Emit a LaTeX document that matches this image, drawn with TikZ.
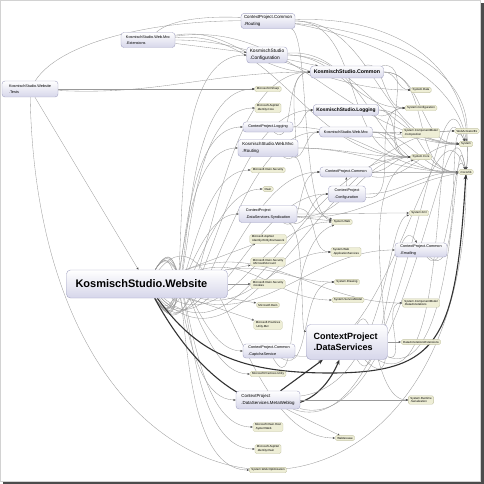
\documentclass[tikz,border=0pt]{standalone}
\usepackage{fontspec}
\setmainfont{Liberation Sans}
\usepackage{tikz}
\usetikzlibrary{arrows.meta}
\usetikzlibrary{calc}
\usetikzlibrary{positioning}
\usetikzlibrary{backgrounds}

\definecolor{asmfill}{HTML}{D6D6EA}
\definecolor{asmline}{HTML}{A4A4C4}
\definecolor{extfill}{HTML}{EEEED6}
\definecolor{extline}{HTML}{C4C4A4}
\definecolor{edgegray}{HTML}{999999}

\tikzset{
	asm/.style={draw=asmline, rounded corners=3pt, top color=white, bottom color=asmfill, align=left, inner xsep=3pt, inner ysep=2pt, line width=0.4pt},
	asmS/.style={asm, font=\fontsize{3.8}{6.2}\selectfont},
	asmM/.style={asm, font=\fontsize{4.4}{7}\selectfont},
	asmL/.style={asm, font=\fontsize{4.9}{7}\selectfont\bfseries},
	ext/.style={draw=extline, fill=extfill, rounded corners=1.5pt, align=left, font=\fontsize{2.9}{3.7}\selectfont, inner xsep=2pt, inner ysep=1.3pt, line width=0.3pt},
	dep/.style={-{Stealth[length=2.6pt,width=2pt,color=black!70]}, draw=edgegray, line width=0.33pt},
	heavy/.style={-{Stealth[length=5pt,width=4pt]}, draw=black!80, line width=1.1pt}
}

\begin{document}
\begin{tikzpicture}[x=1pt,y=-1pt]
	\useasboundingbox (0,0) rectangle (484,484);

	\node[asmS, minimum width=56pt, minimum height=16pt] (tests) at (30,89) {KosmischStudio.Website\\.Tests};
	\node[asmS, minimum width=54pt, minimum height=15pt] (mvcext) at (148,40) {KosmischStudio.Web.Mvc\\.Extensions};
	\node[asmM, minimum width=52pt, minimum height=15pt] (cprouting) at (268,21) {ContextProject.Common\\.Routing};
	\node[asmM, font=\fontsize{4.8}{7.5}\selectfont, minimum width=40pt, minimum height=16pt] (kconfig) at (267,55) {KosmischStudio\\.Configuration};
	\node[asmL, font=\fontsize{5.3}{7}\selectfont\bfseries, minimum width=73pt, minimum height=12pt] (kcommon) at (347,72) {KosmischStudio.Common};
	\node[asmL, minimum width=58pt, minimum height=11pt] (klogging) at (346,110) {KosmischStudio.Logging};
	\node[asmS, minimum width=53pt, minimum height=10pt] (kwebmvc) at (346,132) {KosmischStudio.Web.Mvc};
	\node[asmS, minimum width=50pt, minimum height=10pt] (cplogging) at (268,127) {ContextProject.Logging};
	\node[asmM, minimum width=60pt, minimum height=17pt] (kroute) at (268,148) {KosmischStudio.Web.Mvc\\.Routing};
	\node[asmS, minimum width=52pt, minimum height=10pt] (cpcommon) at (346,172) {ContextProject.Common};
	\node[asmS, minimum width=37pt, minimum height=16pt] (cpconfig) at (347,194) {ContextProject\\.Configuration};
	\node[asmS, minimum width=58pt, minimum height=17pt] (synd) at (268,214) {ContextProject\\.DataServices.Syndication};
	\node[asm, font=\fontsize{11}{13}\selectfont\bfseries, rounded corners=4pt, inner xsep=9pt, text width=143pt, minimum height=28pt] (W) at (147,284) {KosmischStudio.Website};
	\node[asmS, minimum width=52pt, minimum height=14pt] (emailing) at (421,250) {ContextProject.Common\\.Emailing};
	\node[asmS, minimum width=52pt, minimum height=14pt] (captcha) at (269,351) {ContextProject.Common\\.CaptchaService};
	\node[asm, font=\fontsize{9}{11.5}\selectfont\bfseries, rounded corners=4pt, inner xsep=7pt, text width=67pt, minimum height=35pt] (DS) at (347,342) {ContextProject\\.DataServices};
	\node[asmM, minimum width=64pt, minimum height=18pt] (metaweblog) at (268,400) {ContextProject\\.DataServices.MetaWeblog};

	\node[ext] (csharp) at (268,89) {Microsoft.CSharp};
	\node[ext] (idcore) at (268,108) {Microsoft.AspNet\\.Identity.Core};
	\node[ext] (owinsec) at (268,170) {Microsoft.Owin.Security};
	\node[ext] (owin) at (268,189) {Owin};
	\node[ext] (idef) at (268,239) {Microsoft.AspNet\\.Identity.EntityFramework};
	\node[ext] (msacct) at (268,262) {Microsoft.Owin.Security\\.MicrosoftAccount};
	\node[ext] (cookies) at (268,284) {Microsoft.Owin.Security\\.Cookies};
	\node[ext] (owinms) at (268,305) {Microsoft.Owin};
	\node[ext] (unitymvc) at (268,325) {Microsoft.Practices\\.Unity.Mvc};
	\node[ext] (unity) at (268,374) {Microsoft.Practices.Unity};
	\node[ext] (hostsys) at (268,427) {Microsoft.Owin.Host\\.SystemWeb};
	\node[ext] (idowin) at (268,449) {Microsoft.AspNet\\.Identity.Owin};
	\node[ext] (optim) at (268,470) {System.Web.Optimization};
	\node[ext] (webgrease) at (345,438) {WebGrease};
	\node[ext] (sysweb) at (342,222) {System.Web};
	\node[ext] (appsvc) at (346,252) {System.Web\\.ApplicationServices};
	\node[ext] (drawing) at (347,282) {System.Drawing};
	\node[ext] (svcmodel) at (348,300) {System.ServiceModel};
	\node[ext] (dataann) at (421,303) {System.ComponentModel\\.DataAnnotations};
	\node[ext] (dae) at (421,342) {DataAnnotationsExtensions};
	\node[ext] (serial) at (421,400) {System.Runtime\\.Serialization};
	\node[ext] (sysdata) at (421,90) {System.Data};
	\node[ext] (syscfg) at (421,108) {System.Configuration};
	\node[ext] (compos) at (421,133) {System.ComponentModel\\.Composition};
	\node[ext] (core) at (421,157) {System.Core};
	\node[ext] (xml) at (419,213) {System.Xml};
	\node[ext] (webact) at (467,131) {WebActivatorEx};
	\node[ext] (system) at (466,144) {System};
	\node[ext] (mscorlib) at (466,172) {mscorlib};

	\begin{scope}[on background layer]
		\fill[black!70] (3,3) rectangle (484,484);
		\fill[white] (0,0) rectangle (480,481);
		\draw[gray!35] (0.3,0.3) rectangle (480,481);

		\draw[dep] (tests) -- (W);
		\draw[dep] (tests) -- (csharp);
		\draw[dep] (tests) to[out=-3,in=180] (kcommon);
		\draw[dep] (tests) .. controls (90,-5) and (484,-10) .. (system);
		\draw[dep] (tests) .. controls (40,580) and (470,580) .. (mscorlib);

		\draw[dep] (mvcext) .. controls (200,-8) and (486,30) .. (mscorlib);
		\draw[dep] (mvcext) -- (kconfig);
		\draw[dep] (mvcext) to[out=0,in=180] (sysdata);
		\draw[dep] (mvcext) to[out=5,in=180] (core);
		\draw[dep] (mvcext) to[out=10,in=180] (kcommon);
		\draw[dep] (mvcext) to[out=8,in=175] (system);

		\draw[dep] (cprouting) .. controls (400,15) and (478,70) .. (mscorlib);
		\draw[dep] (cprouting) to[out=0,in=180] (system);
		\draw[dep] (cprouting) .. controls (310,35) and (300,215) .. (sysweb);
		\draw[dep] (cprouting) to[out=0,in=180] (core);

		\draw[dep] (kconfig) -- (kcommon);
		\draw[dep] (kconfig) to[out=0,in=180] (syscfg);
		\draw[dep] (kconfig) to[out=5,in=185] (mscorlib);
		\draw[dep] (kconfig) to[out=0,in=180] (system);

		\draw[dep] (kcommon) to[out=0,in=180] (system);
		\draw[dep] (kcommon) to[out=0,in=180] (mscorlib);
		\draw[dep] (kcommon) to[out=0,in=180] (sysdata);
		\draw[dep] (kcommon) to[out=10,in=180] (core);
		\draw[dep] (kcommon) to[out=20,in=180] (syscfg);

		\draw[dep] (klogging) to[out=0,in=180] (mscorlib);
		\draw[dep] (klogging) to[out=-10,in=180] (syscfg);
		\draw[dep] (klogging) to[out=0,in=180] (core);

		\draw[dep] (kwebmvc) -- (compos);
		\draw[dep] (kwebmvc) to[out=0,in=180] (system);
		\draw[dep] (kwebmvc) to[out=0,in=180] (core);
		\draw[dep] (kwebmvc) to[out=0,in=180] (mscorlib);
		\draw[dep] (kwebmvc) to[out=-10,in=180] (webact);

		\draw[dep] (cplogging) to[out=0,in=180] (klogging);
		\draw[dep] (cplogging) to[out=-40,in=180] (kcommon);
		\draw[dep] (cplogging) to[out=0,in=180] (mscorlib);

		\draw[dep] (kroute) to[out=-30,in=180] (kcommon);
		\draw[dep] (kroute) to[out=0,in=180] (core);
		\draw[dep] (kroute) to[out=0,in=180] (mscorlib);
		\draw[dep] (kroute) .. controls (305,160) and (300,210) .. (sysweb);
		\draw[dep] (kroute) to[out=-20,in=180] (kwebmvc);

		\draw[dep] (cpcommon) to[out=0,in=180] (mscorlib);
		\draw[dep] (cpcommon) to[out=0,in=180] (core);
		\draw[dep] (cpcommon) to[out=-10,in=180] (system);

		\draw[dep] (cpconfig) to[out=0,in=180] (mscorlib);
		\draw[dep] (cpconfig) to[out=-10,in=180] (syscfg);
		\draw[dep] (cpconfig) -- (cpcommon);

		\draw[dep] (synd) to[out=-20,in=180] (cpconfig);
		\draw[dep] (synd) to[out=-30,in=180] (cpcommon);
		\draw[dep] (synd) -- (sysweb);
		\draw[dep] (synd) to[out=0,in=180] (xml);
		\draw[dep] (synd) to[out=10,in=180] (appsvc);
		\draw[dep] (synd) .. controls (306,230) and (300,330) .. (DS);
		\draw[dep] (synd) to[out=-5,in=190] (mscorlib);
		\draw[dep] (synd) to[out=-5,in=180] (core);

		\foreach \t in {kconfig,csharp,idcore,cplogging,kroute,owinsec,owin,synd}
			\draw[dep] (W) to[out=-60,in=180] (\t);
		\foreach \t in {idef,msacct,cookies,owinms,unitymvc}
			\draw[dep] (W) -- (\t);
		\foreach \t in {captcha,unity,metaweblog,hostsys,idowin,optim}
			\draw[dep] (W) to[out=60,in=180] (\t);
		\draw[dep] (W) to[out=-60,in=180] (kcommon);
		\draw[dep] (W) to[out=-60,in=180] (klogging);
		\draw[dep] (W) to[out=-55,in=180] (kwebmvc);
		\draw[dep] (W) to[out=-50,in=180] (cpcommon);
		\draw[dep] (W) to[out=-45,in=180] (cpconfig);
		\draw[dep] (W) to[out=-30,in=180] (sysweb);
		\draw[dep] (W) to[out=-15,in=180] (appsvc);
		\draw[dep] (W) to[out=-20,in=180] (emailing);
		\draw[dep] (W) to[out=10,in=180] (drawing);
		\draw[dep] (W) to[out=15,in=180] (svcmodel);
		\draw[dep] (W) to[out=20,in=180] (dataann);
		\draw[dep] (W) to[out=50,in=180] (webgrease);
		\draw[dep] (W) to[out=-40,in=180] (core);
		\draw[dep] (W) to[out=-45,in=180] (webact);
		\draw[heavy] (W) .. controls (215,410) and (305,440) .. (DS);
		\draw[heavy] (W) .. controls (195,350) and (235,373) .. (330,373) .. controls (440,373) and (456,340) .. (mscorlib);

		\draw[dep] (captcha) to[out=-30,in=180] (drawing);
		\draw[dep] (captcha) to[out=-60,in=200] (sysweb);
		\draw[dep] (captcha) to[out=-10,in=110] (mscorlib);

		\draw[dep] (DS) -- (dae);
		\draw[dep] (DS) to[out=-60,in=120] (emailing);
		\draw[dep] (DS) to[out=60,in=180] (serial);
		\draw[dep] (DS) to[out=-20,in=100] (mscorlib);
		\draw[dep] (DS) to[out=-30,in=115] (system);
		\draw[dep] (DS) to[out=-45,in=200] (core);
		\draw[dep] (DS) to[out=-20,in=180] (dataann);

		\draw[heavy] (metaweblog) -- (DS);
		\draw[dep] (metaweblog) -- (serial);
		\draw[dep] (metaweblog) -- (webgrease);
		\draw[dep] (metaweblog) to[out=-15,in=100] (mscorlib);
		\draw[dep] (metaweblog) to[out=-20,in=105] (system);
		\draw[dep] (metaweblog) .. controls (390,385) and (385,220) .. (xml);

		\draw[dep] (emailing) to[out=-50,in=110] (mscorlib);
		\draw[dep] (emailing) to[out=-40,in=115] (system);
	\end{scope}
\end{tikzpicture}
\end{document}
